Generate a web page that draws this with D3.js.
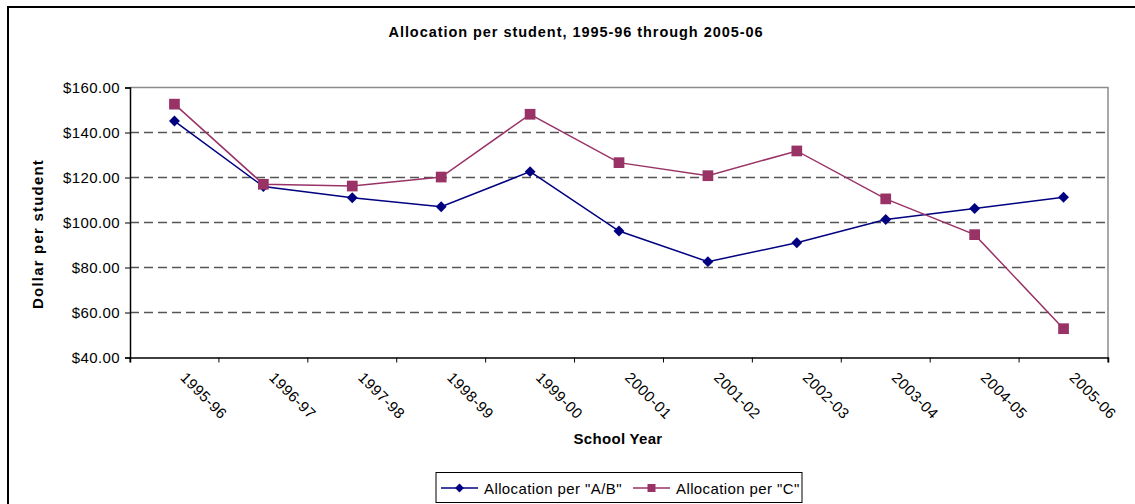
<!DOCTYPE html>
<html>
<head>
<meta charset="utf-8">
<script src="https://cdn.jsdelivr.net/npm/d3@7"></script>
<style>
  body { margin: 0; background: #fff; }
  text { font-family: "Liberation Sans", Arial, sans-serif; }
</style>
</head>
<body>
<svg id="chart_svg"></svg>
<script>
const margins = { top: 87.5, bottom: 146.5, left: 130, right: 27 }
const W = 1135, H = 504
const width = W - margins.left - margins.right
const height = H - margins.top - margins.bottom

// data
var years = ["1995-96", "1996-97", "1997-98", "1998-99", "1999-00", "2000-01",
             "2001-02", "2002-03", "2003-04", "2004-05", "2005-06"]
var allocAB = [145.1, 116.0, 111.0, 107.0, 122.6, 96.2, 82.6, 91.0, 101.3, 106.2, 111.2]
var allocC  = [152.6, 117.0, 116.2, 120.2, 148.1, 126.6, 120.8, 131.8, 110.5, 94.6, 52.8]
var yTicks = [40, 60, 80, 100, 120, 140, 160]
var seriesNames = ['Allocation per "A/B"', 'Allocation per "C"']
var seriesColors = ["#000080", "#993366"]

var svg = d3.select("#chart_svg")
    .attr("width", W)
    .attr("height", H)

// outer chart frame (runs off the right and bottom of the picture)
svg.append("rect")
    .attr("x", 8).attr("y", 7)
    .attr("width", 1150).attr("height", 520)
    .attr("fill", "none")
    .attr("stroke", "#000")
    .attr("stroke-width", 2)

svg.append("text")
    .attr("x", 576)
    .attr("y", 37)
    .attr("text-anchor", "middle")
    .attr("font-size", "14.5px")
    .attr("font-weight", 700)
    .attr("letter-spacing", "0.95px")
    .text("Allocation per student, 1995-96 through 2005-06")

var g = svg.append("g")
    .attr("transform", "translate(" + margins.left + "," + margins.top + ")")

var x = d3.scaleBand()
    .domain(years)
    .range([0, width])

var y = d3.scaleLinear()
    .domain([40, 160])
    .range([height, 0])

// grid lines
g.selectAll(".grid")
    .data(yTicks.filter(function(d){ return d > 40 && d < 160 }))
    .enter().append("line")
    .attr("x1", 0).attr("x2", width)
    .attr("y1", function(d){ return y(d) })
    .attr("y2", function(d){ return y(d) })
    .attr("stroke", "#555")
    .attr("stroke-width", 1.3)
    .attr("stroke-dasharray", "9,5")

// plot area border (top + right are grey)
g.append("path")
    .attr("d", "M0," + y(160) + "H" + width + "V" + height)
    .attr("fill", "none")
    .attr("stroke", "#8c8c8c")
    .attr("stroke-width", 1.5)

var yAxis = g.append("g")
    .call(d3.axisLeft(y).tickValues(yTicks).tickSize(5).tickFormat(d3.format("$.2f")))
yAxis.selectAll("text")
    .attr("font-size", "15px")
    .attr("letter-spacing", "0.4px")
    .attr("fill", "#000")
    .attr("x", -10)
yAxis.select(".domain").attr("stroke", "#000").attr("stroke-width", 1.5)
yAxis.selectAll(".tick line").attr("stroke", "#000")

var xAxis = g.append("g")
    .attr("transform", "translate(0," + height + ")")
    .call(d3.axisBottom(x).tickSize(5).tickFormat(""))
xAxis.select(".domain").attr("stroke", "#000").attr("stroke-width", 1.5)
// excel puts ticks on the category boundaries
xAxis.selectAll(".tick line")
    .attr("stroke", "#000")
    .attr("transform", "translate(" + (x.bandwidth() / 2) + ",0)")
xAxis.append("line")
    .attr("x1", 0).attr("x2", 0).attr("y1", 0).attr("y2", 5)
    .attr("stroke", "#000")

g.selectAll(".xlabel")
    .data(years)
    .enter().append("text")
    .attr("transform", function(d){
        return "translate(" + (x(d) + x.bandwidth() / 2 + 5) + "," + (height + 21) + ") rotate(45)" })
    .attr("font-size", "15px")
    .attr("letter-spacing", "0.5px")
    .text(function(d){ return d })

svg.append("text")
    .attr("x", 618)
    .attr("y", 444)
    .attr("text-anchor", "middle")
    .attr("font-size", "15px")
    .attr("font-weight", 700)
    .attr("letter-spacing", "0.3px")
    .text("School Year")

svg.append("text")
    .attr("transform", "translate(43,234) rotate(-90)")
    .attr("text-anchor", "middle")
    .attr("font-size", "15px")
    .attr("font-weight", 700)
    .attr("letter-spacing", "1.2px")
    .text("Dollar per student")

var line = d3.line()
    .x(function(d, i){ return x(years[i]) + x.bandwidth() / 2 })
    .y(function(d){ return y(d) })

var diamond = d3.symbol().type(d3.symbolDiamond2).size(76)
var square = d3.symbol().type(d3.symbolSquare).size(115)

var series = [allocAB, allocC]
var shapes = [diamond, square]

series.forEach(function(vals, k){
    g.append("path")
        .datum(vals)
        .attr("d", line)
        .attr("fill", "none")
        .attr("stroke", seriesColors[k])
        .attr("stroke-width", 1.5)
})

series.forEach(function(vals, k){
    g.selectAll(".m" + k)
        .data(vals)
        .enter().append("path")
        .attr("d", shapes[k])
        .attr("transform", function(d, i){
            return "translate(" + (x(years[i]) + x.bandwidth() / 2) + "," + y(d) + ")" })
        .attr("fill", seriesColors[k])
})

// legend
var legend = svg.append("g")
legend.append("rect")
    .attr("x", 436).attr("y", 472.5)
    .attr("width", 366).attr("height", 30)
    .attr("fill", "#fff")
    .attr("stroke", "#000")
    .attr("stroke-width", 1)

var legendX = [441, 633]
var legendItem = legend.selectAll(".legend")
    .data(seriesNames)
    .enter().append("g")
    .attr("transform", function(d, i){ return "translate(" + legendX[i] + ",488)" })

legendItem.append("line")
    .attr("x1", 0).attr("x2", 37)
    .attr("stroke", function(d, i){ return seriesColors[i] })
    .attr("stroke-width", 1.5)
legendItem.append("path")
    .attr("d", function(d, i){
        return (i == 0 ? d3.symbol().type(d3.symbolDiamond2).size(50) : d3.symbol().type(d3.symbolSquare).size(64))() })
    .attr("transform", "translate(18.5,0)")
    .attr("fill", function(d, i){ return seriesColors[i] })
legendItem.append("text")
    .attr("x", 43)
    .attr("y", 5.5)
    .attr("font-size", "15px")
    .attr("letter-spacing", "0.4px")
    .text(function(d){ return d })
</script>
</body>
</html>
